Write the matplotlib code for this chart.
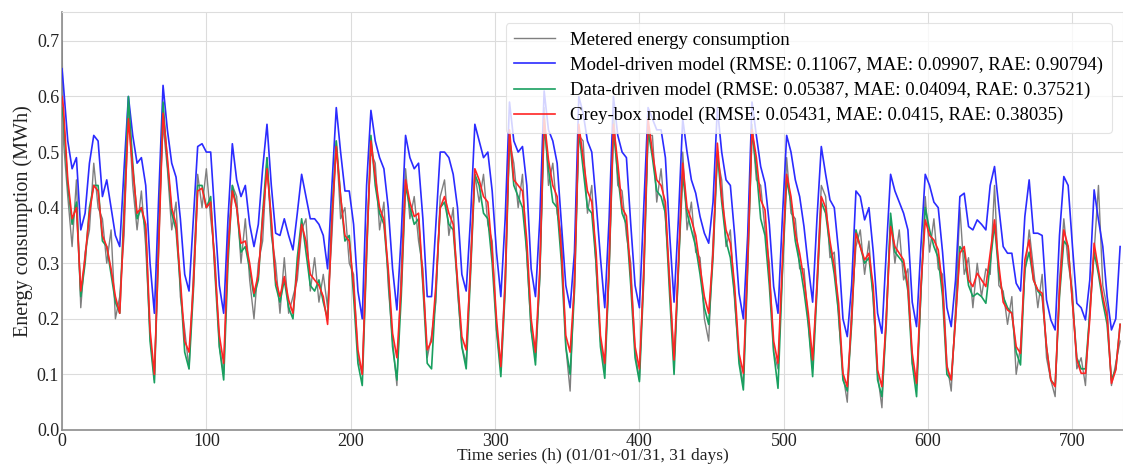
import matplotlib
matplotlib.use("Agg")
import matplotlib.pyplot as plt

# Sample times (hours) read along the x-axis: hour 0, then every 3 hours
hours = [0] + list(range(1, 734, 3))

metered = [0.70,
    0.52, 0.42, 0.33, 0.45, 0.22, 0.32, 0.36, 0.48,
    0.40, 0.38, 0.30, 0.36, 0.20, 0.24, 0.35, 0.58,
    0.44, 0.36, 0.43, 0.33, 0.17, 0.09, 0.36, 0.55,
    0.47, 0.36, 0.41, 0.24, 0.18, 0.11, 0.28, 0.46,
    0.40, 0.47, 0.38, 0.31, 0.15, 0.10, 0.34, 0.44,
    0.42, 0.30, 0.38, 0.27, 0.20, 0.30, 0.34, 0.49,
    0.35, 0.30, 0.21, 0.31, 0.21, 0.24, 0.27, 0.36,
    0.38, 0.25, 0.31, 0.23, 0.28, 0.22, 0.35, 0.52,
    0.38, 0.40, 0.30, 0.28, 0.13, 0.10, 0.34, 0.50,
    0.48, 0.36, 0.41, 0.26, 0.16, 0.08, 0.29, 0.47,
    0.38, 0.42, 0.34, 0.29, 0.13, 0.17, 0.23, 0.42,
    0.45, 0.35, 0.40, 0.25, 0.15, 0.12, 0.31, 0.46,
    0.41, 0.46, 0.37, 0.34, 0.18, 0.11, 0.28, 0.52,
    0.48, 0.40, 0.46, 0.31, 0.18, 0.13, 0.27, 0.58,
    0.44, 0.48, 0.39, 0.35, 0.15, 0.07, 0.28, 0.53,
    0.52, 0.39, 0.44, 0.29, 0.16, 0.11, 0.28, 0.58,
    0.44, 0.43, 0.35, 0.30, 0.14, 0.09, 0.30, 0.53,
    0.53, 0.41, 0.47, 0.38, 0.27, 0.12, 0.28, 0.50,
    0.36, 0.41, 0.32, 0.31, 0.20, 0.16, 0.34, 0.49,
    0.45, 0.33, 0.36, 0.23, 0.13, 0.08, 0.32, 0.55,
    0.45, 0.44, 0.36, 0.30, 0.14, 0.11, 0.28, 0.49,
    0.39, 0.38, 0.29, 0.29, 0.19, 0.11, 0.27, 0.44,
    0.42, 0.31, 0.32, 0.20, 0.10, 0.05, 0.22, 0.33,
    0.36, 0.28, 0.34, 0.23, 0.10, 0.04, 0.21, 0.38,
    0.30, 0.36, 0.27, 0.29, 0.12, 0.08, 0.24, 0.42,
    0.32, 0.38, 0.29, 0.28, 0.12, 0.07, 0.22, 0.40,
    0.28, 0.31, 0.22, 0.30, 0.24, 0.29, 0.28, 0.44,
    0.26, 0.25, 0.19, 0.24, 0.10, 0.15, 0.28, 0.36,
    0.29, 0.22, 0.28, 0.13, 0.09, 0.06, 0.27, 0.38,
    0.30, 0.25, 0.11, 0.13, 0.08, 0.22, 0.32, 0.44,
    0.26, 0.22, 0.08, 0.12, 0.16]

model_driven = [0.65,
    0.62, 0.52, 0.47, 0.49, 0.36, 0.39, 0.48, 0.53,
    0.52, 0.42, 0.45, 0.40, 0.35, 0.33, 0.47, 0.60,
    0.53, 0.48, 0.49, 0.44, 0.30, 0.21, 0.42, 0.62,
    0.54, 0.48, 0.455, 0.38, 0.28, 0.25, 0.38, 0.51,
    0.515, 0.50, 0.50, 0.38, 0.26, 0.21, 0.38, 0.515,
    0.45, 0.42, 0.44, 0.37, 0.33, 0.37, 0.47, 0.55,
    0.44, 0.354, 0.35, 0.38, 0.35, 0.324, 0.39, 0.46,
    0.42, 0.38, 0.38, 0.37, 0.35, 0.29, 0.44, 0.58,
    0.50, 0.43, 0.43, 0.37, 0.25, 0.20, 0.44, 0.575,
    0.52, 0.49, 0.47, 0.40, 0.29, 0.216, 0.35, 0.53,
    0.49, 0.47, 0.48, 0.38, 0.24, 0.24, 0.37, 0.50,
    0.50, 0.49, 0.46, 0.40, 0.28, 0.25, 0.38, 0.55,
    0.52, 0.49, 0.50, 0.43, 0.32, 0.24, 0.38, 0.59,
    0.52, 0.50, 0.51, 0.44, 0.29, 0.24, 0.38, 0.61,
    0.54, 0.52, 0.48, 0.37, 0.26, 0.22, 0.32, 0.60,
    0.57, 0.52, 0.50, 0.41, 0.31, 0.22, 0.38, 0.60,
    0.53, 0.50, 0.49, 0.37, 0.26, 0.22, 0.40, 0.58,
    0.56, 0.54, 0.54, 0.49, 0.35, 0.23, 0.38, 0.56,
    0.50, 0.45, 0.426, 0.384, 0.354, 0.336, 0.41, 0.58,
    0.50, 0.45, 0.44, 0.35, 0.246, 0.20, 0.35, 0.59,
    0.53, 0.474, 0.444, 0.37, 0.258, 0.21, 0.38, 0.53,
    0.50, 0.45, 0.42, 0.366, 0.294, 0.23, 0.38, 0.51,
    0.46, 0.414, 0.40, 0.32, 0.20, 0.168, 0.26, 0.43,
    0.42, 0.378, 0.40, 0.32, 0.21, 0.174, 0.32, 0.46,
    0.43, 0.41, 0.39, 0.36, 0.23, 0.186, 0.33, 0.46,
    0.44, 0.41, 0.40, 0.32, 0.22, 0.186, 0.27, 0.42,
    0.426, 0.366, 0.36, 0.378, 0.37, 0.36, 0.44, 0.474,
    0.40, 0.33, 0.318, 0.318, 0.264, 0.25, 0.384, 0.45,
    0.354, 0.354, 0.35, 0.234, 0.198, 0.18, 0.35, 0.456,
    0.44, 0.33, 0.228, 0.22, 0.198, 0.27, 0.432, 0.378,
    0.33, 0.24, 0.18, 0.20, 0.33]

data_driven = [0.58,
    0.56, 0.44, 0.37, 0.41, 0.24, 0.30, 0.40, 0.44,
    0.44, 0.34, 0.33, 0.28, 0.23, 0.21, 0.40, 0.60,
    0.48, 0.38, 0.40, 0.36, 0.16, 0.085, 0.34, 0.59,
    0.48, 0.39, 0.36, 0.26, 0.14, 0.11, 0.25, 0.44,
    0.44, 0.40, 0.42, 0.28, 0.15, 0.09, 0.30, 0.44,
    0.40, 0.32, 0.33, 0.29, 0.24, 0.27, 0.39, 0.49,
    0.37, 0.26, 0.23, 0.27, 0.22, 0.20, 0.31, 0.38,
    0.32, 0.26, 0.25, 0.27, 0.23, 0.20, 0.39, 0.52,
    0.42, 0.34, 0.35, 0.24, 0.12, 0.08, 0.31, 0.53,
    0.44, 0.39, 0.37, 0.28, 0.15, 0.09, 0.24, 0.44,
    0.40, 0.37, 0.38, 0.26, 0.12, 0.11, 0.25, 0.40,
    0.41, 0.37, 0.36, 0.26, 0.15, 0.11, 0.28, 0.46,
    0.44, 0.39, 0.38, 0.30, 0.18, 0.096, 0.25, 0.53,
    0.44, 0.42, 0.40, 0.32, 0.18, 0.117, 0.28, 0.55,
    0.47, 0.41, 0.40, 0.30, 0.15, 0.10, 0.25, 0.54,
    0.47, 0.40, 0.39, 0.30, 0.15, 0.093, 0.29, 0.54,
    0.46, 0.39, 0.37, 0.26, 0.13, 0.087, 0.27, 0.54,
    0.49, 0.43, 0.42, 0.39, 0.24, 0.10, 0.29, 0.46,
    0.39, 0.36, 0.33, 0.28, 0.22, 0.19, 0.31, 0.50,
    0.41, 0.34, 0.31, 0.24, 0.12, 0.072, 0.29, 0.54,
    0.47, 0.38, 0.35, 0.26, 0.14, 0.075, 0.28, 0.45,
    0.41, 0.34, 0.30, 0.25, 0.19, 0.096, 0.25, 0.41,
    0.39, 0.33, 0.28, 0.21, 0.09, 0.07, 0.19, 0.36,
    0.33, 0.30, 0.31, 0.24, 0.09, 0.06, 0.19, 0.39,
    0.32, 0.31, 0.30, 0.25, 0.12, 0.06, 0.25, 0.40,
    0.36, 0.33, 0.31, 0.24, 0.10, 0.09, 0.20, 0.33,
    0.32, 0.26, 0.24, 0.246, 0.24, 0.228, 0.30, 0.37,
    0.28, 0.24, 0.22, 0.21, 0.14, 0.117, 0.29, 0.32,
    0.27, 0.25, 0.24, 0.15, 0.09, 0.08, 0.24, 0.34,
    0.33, 0.23, 0.13, 0.11, 0.11, 0.21, 0.32, 0.28,
    0.23, 0.19, 0.09, 0.11, 0.19]

grey_box = [0.60,
    0.58, 0.45, 0.38, 0.40, 0.25, 0.31, 0.39, 0.44,
    0.43, 0.35, 0.33, 0.29, 0.24, 0.21, 0.38, 0.56,
    0.47, 0.39, 0.40, 0.37, 0.18, 0.10, 0.33, 0.57,
    0.49, 0.40, 0.37, 0.27, 0.16, 0.14, 0.26, 0.43,
    0.435, 0.40, 0.41, 0.29, 0.17, 0.12, 0.32, 0.43,
    0.40, 0.336, 0.34, 0.30, 0.246, 0.28, 0.38, 0.47,
    0.38, 0.27, 0.24, 0.276, 0.234, 0.21, 0.29, 0.37,
    0.34, 0.28, 0.27, 0.26, 0.24, 0.19, 0.38, 0.51,
    0.42, 0.35, 0.34, 0.26, 0.144, 0.10, 0.32, 0.52,
    0.456, 0.40, 0.378, 0.29, 0.174, 0.13, 0.258, 0.45,
    0.41, 0.384, 0.39, 0.27, 0.144, 0.16, 0.26, 0.40,
    0.42, 0.39, 0.37, 0.27, 0.168, 0.144, 0.29, 0.47,
    0.45, 0.42, 0.41, 0.32, 0.20, 0.114, 0.26, 0.54,
    0.45, 0.44, 0.43, 0.34, 0.20, 0.14, 0.29, 0.56,
    0.486, 0.44, 0.42, 0.32, 0.17, 0.14, 0.26, 0.55,
    0.49, 0.43, 0.41, 0.32, 0.17, 0.12, 0.30, 0.55,
    0.48, 0.40, 0.385, 0.276, 0.15, 0.11, 0.28, 0.56,
    0.50, 0.45, 0.44, 0.41, 0.26, 0.126, 0.30, 0.48,
    0.40, 0.378, 0.35, 0.294, 0.24, 0.21, 0.32, 0.516,
    0.42, 0.36, 0.336, 0.258, 0.138, 0.102, 0.30, 0.54,
    0.49, 0.414, 0.396, 0.28, 0.16, 0.12, 0.30, 0.46,
    0.42, 0.354, 0.318, 0.27, 0.21, 0.126, 0.26, 0.42,
    0.40, 0.34, 0.294, 0.228, 0.102, 0.078, 0.20, 0.354,
    0.33, 0.306, 0.318, 0.258, 0.108, 0.078, 0.20, 0.366,
    0.33, 0.318, 0.306, 0.258, 0.138, 0.084, 0.26, 0.378,
    0.35, 0.342, 0.324, 0.258, 0.114, 0.09, 0.20, 0.318,
    0.33, 0.27, 0.258, 0.282, 0.27, 0.258, 0.318, 0.378,
    0.296, 0.23, 0.216, 0.21, 0.15, 0.138, 0.306, 0.342,
    0.27, 0.252, 0.246, 0.15, 0.09, 0.078, 0.25, 0.36,
    0.33, 0.228, 0.126, 0.102, 0.102, 0.20, 0.336, 0.288,
    0.24, 0.204, 0.084, 0.108, 0.19]

labels = [
    "Metered energy consumption",
    "Model-driven model (RMSE: 0.11067, MAE: 0.09907, RAE: 0.90794)",
    "Data-driven model (RMSE: 0.05387, MAE: 0.04094, RAE: 0.37521)",
    "Grey-box model (RMSE: 0.05431, MAE: 0.0415, RAE: 0.38035)",
]
yticks = [0.0, 0.1, 0.2, 0.3, 0.4, 0.5, 0.6, 0.7]
xticks = [0, 100, 200, 300, 400, 500, 600, 700]

plt.rcParams['font.family'] = ['Liberation Serif', 'DejaVu Serif']

fig = plt.figure(figsize=(11.23, 4.70), dpi=100)
ax = fig.add_axes([62/1123, 40/470, 1 - 62/1123, (430-12)/470])

ax.plot(hours, metered, color='#7f7f7f', lw=1.0, label=labels[0], zorder=2)
ax.plot(hours, model_driven, color='#2b2bff', lw=1.2, label=labels[1], zorder=3)
ax.plot(hours, data_driven, color='#19a060', lw=1.2, label=labels[2], zorder=4)
ax.plot(hours, grey_box, color='#ff2424', lw=1.2, label=labels[3], zorder=5)

ax.set_xlim(0, 735)
ax.set_ylim(0, 0.752)
ax.set_xticks(xticks)
ax.set_yticks(yticks)
ax.set_yticklabels([f"{v:.1f}" for v in yticks])
ax.tick_params(axis='both', length=0, labelsize=13, pad=2, colors='#222222')
ax.grid(True, color='#dcdcdc', lw=0.8)
ax.set_axisbelow(True)
for s in ['left', 'bottom']:
    ax.spines[s].set_color('#8c8c8c')
    ax.spines[s].set_linewidth(1.2)
for s in ['top', 'right']:
    ax.spines[s].set_color('#dddddd')
    ax.spines[s].set_linewidth(0.8)

ax.set_xlabel("Time series (h) (01/01~01/31, 31 days)", fontsize=12.5, labelpad=-1, color='#222222')
ax.set_ylabel("Energy consumption (MWh)", fontsize=14.5, labelpad=3, color='#222222')

leg = ax.legend(loc='upper right', fontsize=13.5, frameon=True, framealpha=0.8,
                edgecolor='#dddddd', handlelength=2.2, borderpad=0.45, labelspacing=0.42,
                borderaxespad=0.6)
leg.get_frame().set_linewidth(0.8)

fig.savefig("out.png", dpi=100)
